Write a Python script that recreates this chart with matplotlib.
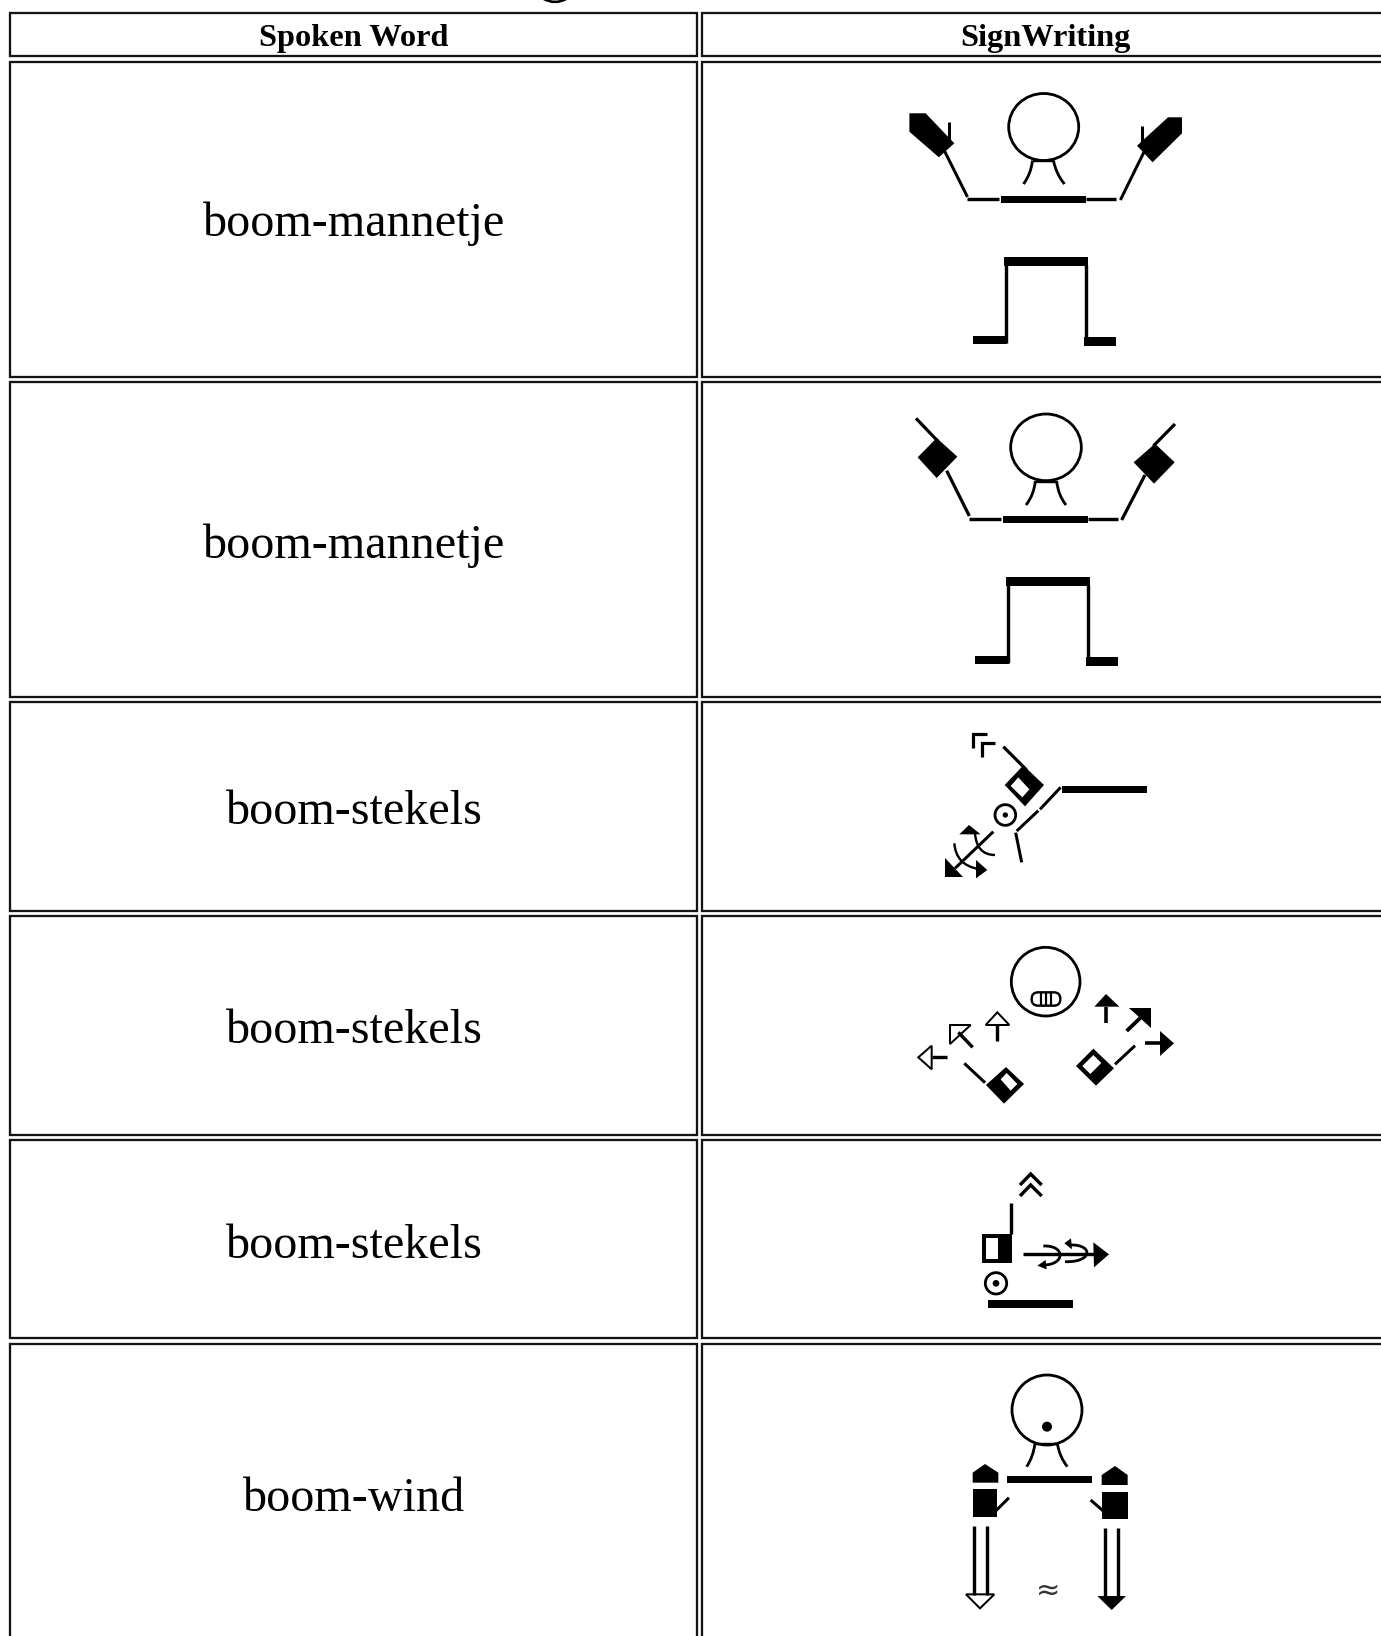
import matplotlib
matplotlib.use("Agg")
import matplotlib.pyplot as plt
from matplotlib.patches import Polygon, Ellipse, Rectangle, PathPatch, FancyBboxPatch
from matplotlib.path import Path

header_labels = ["Spoken Word", "SignWriting"]
header_centers = [353.6, 1045.5]
spoken_words = ["boom-mannetje", "boom-mannetje", "boom-stekels", "boom-stekels", "boom-stekels", "boom-wind"]
word_baselines = [235.7, 557.5, 824.2, 1043.2, 1258, 1511]
row_tops = [61.5, 381.8, 702, 915.8, 1140, 1343.6]
row_bottoms = [376.6, 696.8, 910.6, 1134.9, 1338.3, 1700]
SERIF = "Liberation Serif"
INK = "#000000"

W, H = 1381, 1636
fig = plt.figure(figsize=(W / 100, H / 100), dpi=100, facecolor="white")
ax = fig.add_axes([0, 0, 1, 1])
ax.set_xlim(0, W)
ax.set_ylim(H, 0)
ax.axis("off")

PX = 0.72


def line(pts, w=3.0, T=None, color=INK):
    p = [T(*q) for q in pts] if T else pts
    ax.plot([a for a, _ in p], [b for _, b in p], color=color, lw=w * PX,
            solid_capstyle="butt", solid_joinstyle="miter")


def poly(pts, T=None, fc=INK, ec=None, w=2.0):
    p = [T(*q) for q in pts] if T else pts
    ax.add_patch(Polygon(p, closed=True, fc=fc, ec=ec if ec else "none", lw=w * PX, joinstyle="miter"))


def circ(cx, cy, rx, ry=None, T=None, w=2.6, fc="none", ec=INK):
    if T:
        x0, y0 = T(cx, cy)
        x1, y1 = T(cx + rx, cy + (ry if ry else rx))
        rx, ry = x1 - x0, y1 - y0
        cx, cy = x0, y0
    ry = ry if ry else rx
    ax.add_patch(Ellipse((cx, cy), 2 * rx, 2 * ry, fc=fc, ec=ec, lw=w * PX))


def curve(a, c, b, T=None, w=2.6):
    p = [T(*q) for q in (a, c, b)] if T else [a, c, b]
    ax.add_patch(PathPatch(Path(p, [Path.MOVETO, Path.CURVE3, Path.CURVE3]),
                           fc="none", ec=INK, lw=w * PX, capstyle="butt"))


def curve4(a, c1, c2, b, T=None, w=2.8):
    p = [T(*q) for q in (a, c1, c2, b)] if T else [a, c1, c2, b]
    ax.add_patch(PathPatch(Path(p, [Path.MOVETO, Path.CURVE4, Path.CURVE4, Path.CURVE4]),
                           fc="none", ec=INK, lw=w * PX, capstyle="butt"))


def box(x0, y0, x1, y1, T=None, fc=INK):
    poly([(x0, y0), (x1, y0), (x1, y1), (x0, y1)], T=T, fc=fc)


def zoom3(x0, y0):
    return lambda x, y: (x0 + x / 3, y0 + y / 3)


# ---- table grid
COL_X = [(10.4, 696.8), (702.0, 1420.0)]
HEAD_Y = (12.5, 56.3)


def cell(x0, x1, y0, y1):
    ax.add_patch(Rectangle((x0, y0), x1 - x0, y1 - y0, fc="white", ec="#141414", lw=2.3 * PX))


for (x0, x1), lab, cx in zip(COL_X, header_labels, header_centers):
    cell(x0, x1, *HEAD_Y)
    ax.text(cx, 46, lab, family=SERIF, weight="bold", fontsize=23.3, ha="center", va="baseline", color=INK)

for top, bot, word, base in zip(row_tops, row_bottoms, spoken_words, word_baselines):
    for x0, x1 in COL_X:
        cell(x0, x1, top, bot)
    ax.text(354.1, base, word, family=SERIF, fontsize=34.65, ha="center", va="baseline", color=INK)

# Fragment of the cropped page heading at the top edge
curve((543, -1.5), (555, 5.5), (567, -1.5), w=2.6)


# ---- glyphs
def body(dx, dy):
    """Torso and legs shared by the first two rows (row-1 pixel frame)."""
    T = lambda x, y: (x + dx, y + dy)
    box(1001.5, 195.7, 1086.5, 203.3, T=T)
    line([(967.5, 199), (999.2, 199)], 3.4, T=T)
    line([(1086.5, 199), (1116.4, 199)], 3.4, T=T)
    box(1003.7, 257.3, 1087.8, 265.7, T=T)
    line([(1006, 265), (1006, 343)], 3.4, T=T)
    line([(1085.6, 265), (1085.6, 345)], 3.4, T=T)
    box(972.8, 335.7, 1007.2, 344, T=T)
    box(1084.3, 337.3, 1116.4, 345.7, T=T)


# Row 1
body(0, 0)
circ(1043.7, 127, 35, 33.5, w=2.8)
line([(1033, 161), (1054, 161)], 2.4)
curve((1032.5, 160.5), (1031, 174), (1023.5, 184), w=2.8)
curve((1053.5, 160.5), (1056, 174), (1064.5, 184), w=2.8)
line([(967.5, 197), (943.5, 149)], 3.0)
line([(1120.4, 200), (1144, 152)], 3.0)
poly([(909.4, 113.3), (925.7, 113.3), (954.3, 143.3), (938.9, 157.3), (909.4, 131.7)])
line([(948.6, 121.7), (948.6, 140)], 3)
poly([(1182, 117.3), (1168, 117.3), (1137, 145.7), (1152.6, 162.3), (1182, 133.3)])
line([(1142.4, 126), (1142.4, 146.7)], 3)

# Row 2
body(2, 320)
R2 = zoom3(900, 400)
circ(438, 142, 106, 100, T=R2, w=2.8)
line([(405, 245), (470, 245)], 2.4, T=R2)
curve((406, 243), (402, 285), (378, 315), T=R2, w=2.8)
curve((470, 243), (474, 285), (498, 315), T=R2, w=2.8)
line([(48, 55), (115, 125)], 3.2, T=R2)
poly([(110, 114), (172, 170), (110, 234), (53, 172)], T=R2)
line([(140, 212), (208, 348)], 3.2, T=R2)
line([(825, 72), (760, 138)], 3.2, T=R2)
poly([(765, 131), (824, 187), (762, 251), (701, 187)], T=R2)
line([(735, 225), (665, 360)], 3.2, T=R2)

# Row 3
Z = zoom3(850, 700)
box(637, 257, 890, 280, T=Z)
line([(632, 262), (570, 328)], 3, T=Z)
line([(565, 332), (500, 393)], 3, T=Z)
line([(497, 398), (515, 487)], 3, T=Z)
circ(466, 345, 31, T=Z, w=2.8)
circ(466, 345, 8, T=Z, w=0, fc=INK)
D3 = zoom3(990, 750)
poly([(100, 46), (162, 105), (105, 169), (44, 105)], T=D3)
poly([(62, 108), (85, 82), (118, 118), (97, 142)], T=D3, fc="white")
line([(460, 140), (530, 210)], 3.2, T=Z)
line([(412, 103), (369, 103), (369, 145)], 3.2, T=Z)
line([(435, 128), (395, 128), (395, 170)], 3.2, T=Z)
line([(430, 395), (315, 505)], 3, T=Z)
poly([(285, 475), (285, 532), (340, 532)], T=Z)
curve((313, 430), (318, 495), (385, 507), T=Z, w=2.4)
poly([(378, 480), (412, 510), (378, 535)], T=Z)
curve((375, 400), (380, 465), (435, 465), T=Z, w=2.4)
poly([(328, 403), (357, 375), (392, 403)], T=Z)

# Row 4
circ(587, 845, 103, T=Z, w=2.8)
mx0, my0 = Z(545, 877)
mx1, my1 = Z(631, 917)
ax.add_patch(FancyBboxPatch((mx0, my0), mx1 - mx0, my1 - my0, boxstyle="round,pad=0,rounding_size=6.5",
                            fc="none", ec=INK, lw=2.4 * PX))
for sx in (572, 587, 603):
    line([(sx, 878), (sx, 916)], 2.2, T=Z)
line([(442, 1022), (442, 975)], 3.4, T=Z)
poly([(407, 975), (442, 937), (478, 975)], T=Z, fc="white", ec=INK)
line([(368, 1042), (325, 997)], 3.4, T=Z)
poly([(300, 975), (362, 975), (300, 1032)], T=Z, fc="white", ec=INK)
line([(290, 1072), (245, 1072)], 3.4, T=Z)
poly([(245, 1037), (245, 1108), (205, 1072)], T=Z, fc="white", ec=INK)
line([(343, 1090), (405, 1148)], 3, T=Z)
D4 = zoom3(960, 1040)
poly([(138, 81), (192, 132), (132, 191), (78, 135)], T=D4)
poly([(122, 118), (140, 99), (172, 132), (152, 152)], T=D4, fc="white")
line([(768, 968), (768, 920)], 3.6, T=Z)
poly([(733, 920), (768, 882), (808, 920)], T=Z)
line([(830, 993), (880, 945)], 3.8, T=Z)
poly([(838, 925), (902, 925), (902, 985)], T=Z)
line([(885, 1030), (930, 1030)], 3.6, T=Z)
poly([(930, 993), (972, 1030), (930, 1068)], T=Z)
line([(795, 1093), (855, 1037)], 3, T=Z)
poly([(400, 26), (462, 85), (408, 137), (348, 78)], T=D4)
poly([(367, 78), (400, 45), (424, 69), (391, 102)], T=D4, fc="white")

# Row 5
Y = zoom3(900, 1150)
line([(360, 105), (392, 72), (425, 105)], 3.4, T=Y)
line([(360, 138), (392, 105), (425, 138)], 3.4, T=Y)
box(247, 252, 337, 340, T=Y)
box(257, 263, 295, 328, T=Y, fc="white")
line([(332, 160), (332, 252)], 3.4, T=Y)
A5 = zoom3(1010, 1210)
line([(38, 133), (260, 133)], 3.4, T=A5)
poly([(250, 97), (297, 133), (252, 172)], T=A5)
curve4((100, 108), (167, 105), (167, 165), (100, 165), T=A5)
poly([(107, 150), (82, 167), (110, 178)], T=A5)
curve4((165, 155), (250, 158), (250, 102), (180, 105), T=A5)
poly([(183, 85), (163, 100), (186, 118)], T=A5)
circ(288, 400, 32, T=Y, w=2.8)
circ(288, 400, 10, T=Y, w=0, fc=INK)
box(265, 449, 520, 473, T=Y)

# Row 6
circ(441, 780, 105, T=Y, w=2.8)
circ(441, 830, 15, T=Y, w=0, fc=INK)
line([(405, 882), (472, 882)], 2.4, T=Y)
curve((405, 880), (400, 920), (380, 950), T=Y, w=2.8)
curve((472, 880), (478, 920), (502, 950), T=Y, w=2.8)
box(320, 977, 575, 1000, T=Y)
poly([(218, 998), (218, 968), (255, 942), (295, 968), (295, 998)], T=Y)
box(218, 1018, 292, 1100, T=Y)
line([(285, 1085), (327, 1043)], 3, T=Y)
poly([(605, 1005), (605, 975), (645, 948), (683, 975), (683, 1005)], T=Y)
box(605, 1025, 683, 1108, T=Y)
line([(612, 1085), (572, 1050)], 3, T=Y)
for lx in (222, 260):
    line([(lx, 1127), (lx, 1335)], 3.4, T=Y)
poly([(198, 1333), (283, 1333), (240, 1375)], T=Y, fc="white", ec=INK)
for lx in (615, 653):
    line([(lx, 1133), (lx, 1340)], 3.4, T=Y)
poly([(592, 1338), (678, 1338), (635, 1380)], T=Y)
tx, ty = Y(445, 1323)
ax.text(tx, ty, "\u2248", family="DejaVu Sans", fontsize=21, ha="center", va="center", color="#333333")

fig.savefig("out.png", dpi=100, facecolor="white")
